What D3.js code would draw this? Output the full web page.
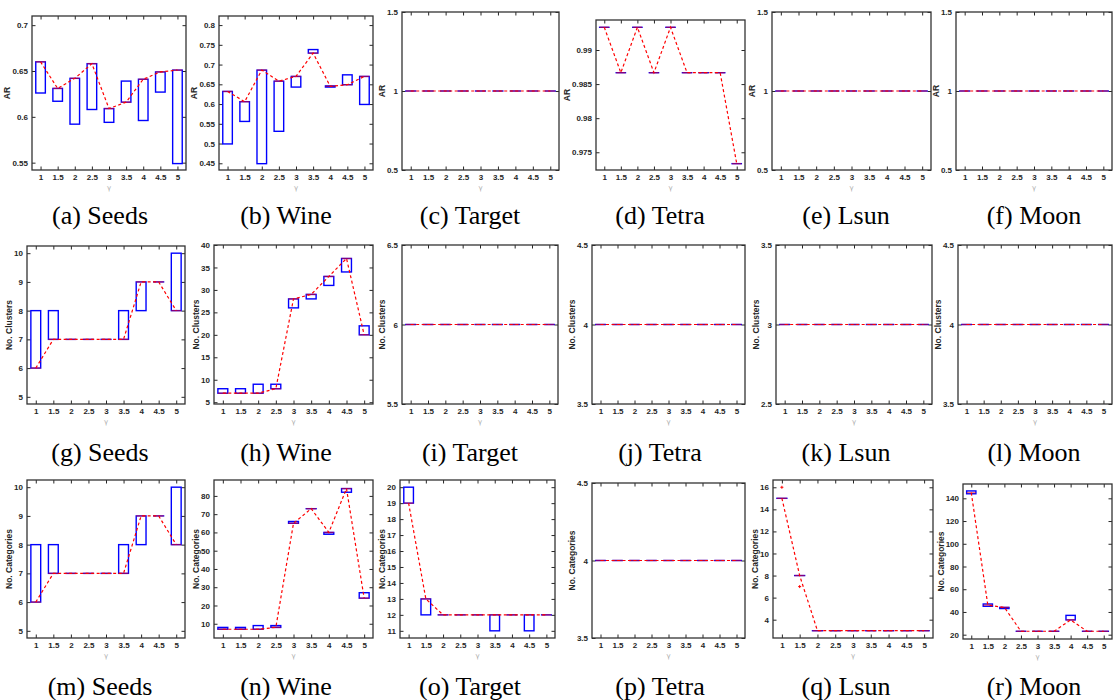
<!DOCTYPE html>
<html lang="en">
<head>
<meta charset="UTF-8">
<title>Box plots against gamma</title>
<script src="https://d3js.org/d3.v7.min.js"></script>
<style>
  body { margin: 0; background: #fff; }
</style>
</head>
<body>
<div id="chart"></div>
<script>
// gamma values shared by every panel
const gammas = [1, 1.5, 2, 2.5, 3, 3.5, 4, 4.5, 5];

// each box: [low, high, median]
const seedsAR = [[0.626,0.660,0.660],[0.617,0.631,0.631],[0.592,0.642,0.642],[0.608,0.658,0.658],[0.594,0.609,0.609],[0.616,0.639,0.616],[0.596,0.641,0.641],[0.627,0.649,0.649],[0.549,0.651,0.651]];
const wineAR = [[0.499,0.632,0.632],[0.556,0.606,0.606],[0.449,0.686,0.686],[0.531,0.658,0.658],[0.643,0.670,0.670],[0.729,0.738,0.729],[0.643,0.646,0.645],[0.649,0.674,0.649],[0.599,0.670,0.670]];
const targetAR = [[1,1,1],[1,1,1],[1,1,1],[1,1,1],[1,1,1],[1,1,1],[1,1,1],[1,1,1],[1,1,1]];
const tetraAR = [[0.99333,0.99333,0.99333],[0.98667,0.98667,0.98667],[0.99333,0.99333,0.99333],[0.98667,0.98667,0.98667],[0.99333,0.99333,0.99333],[0.98667,0.98667,0.98667],[0.98667,0.98667,0.98667],[0.98667,0.98667,0.98667],[0.97333,0.97333,0.97333]];
const lsunAR = [[1,1,1],[1,1,1],[1,1,1],[1,1,1],[1,1,1],[1,1,1],[1,1,1],[1,1,1],[1,1,1]];
const moonAR = [[1,1,1],[1,1,1],[1,1,1],[1,1,1],[1,1,1],[1,1,1],[1,1,1],[1,1,1],[1,1,1]];

const seedsClusters = [[6,8,6],[7,8,7],[7,7,7],[7,7,7],[7,7,7],[7,8,7],[8,9,9],[9,9,9],[8,10,8]];
const wineClusters = [[7,8,7],[7,8,7],[7,9,7],[8,9,8],[26,28,28],[28,29,29],[31,33,33],[34,37,37],[20,22,20]];
const targetClusters = [[6,6,6],[6,6,6],[6,6,6],[6,6,6],[6,6,6],[6,6,6],[6,6,6],[6,6,6],[6,6,6]];
const tetraClusters = [[4,4,4],[4,4,4],[4,4,4],[4,4,4],[4,4,4],[4,4,4],[4,4,4],[4,4,4],[4,4,4]];
const lsunClusters = [[3,3,3],[3,3,3],[3,3,3],[3,3,3],[3,3,3],[3,3,3],[3,3,3],[3,3,3],[3,3,3]];
const moonClusters = [[4,4,4],[4,4,4],[4,4,4],[4,4,4],[4,4,4],[4,4,4],[4,4,4],[4,4,4],[4,4,4]];

const seedsCategories = [[6,8,6],[7,8,7],[7,7,7],[7,7,7],[7,7,7],[7,8,7],[8,9,9],[9,9,9],[8,10,8]];
const wineCategories = [[7,8,7],[7,8,7],[7,9,7],[8,9,8],[65,66,65],[73,73,73],[59,60,60],[82,84,84],[24,27,24]];
const targetCategories = [[19,20,19],[12,13,13],[12,12,12],[12,12,12],[12,12,12],[11,12,12],[12,12,12],[11,12,12],[12,12,12]];
const tetraCategories = [[4,4,4],[4,4,4],[4,4,4],[4,4,4],[4,4,4],[4,4,4],[4,4,4],[4,4,4],[4,4,4]];
const lsunCategories = [[15,15,15],[8,8,8],[3,3,3],[3,3,3],[3,3,3],[3,3,3],[3,3,3],[3,3,3],[3,3,3]];
const lsunOutliers = [[1,16],[1.5,7]];
const moonCategories = [[144,146.5,145],[45,47,46],[43,44,44],[23,23,23],[23,23,23],[23,23,23],[33,37,33],[23,23,23],[23,23,23]];

// y tick labels per panel
const ticksSeedsAR = [0.55,0.6,0.65,0.7];
const ticksWineAR = [0.45,0.5,0.55,0.6,0.65,0.7,0.75,0.8];
const ticksUnitAR = [0.5,1,1.5];
const ticksTetraAR = [0.975,0.98,0.985,0.99];
const ticksSeedsCount = [5,6,7,8,9,10];
const ticksWineClusters = [5,10,15,20,25,30,35,40];
const ticksTargetClusters = [5.5,6,6.5];
const ticksFour = [3.5,4,4.5];
const ticksThree = [2.5,3,3.5];
const ticksWineCategories = [10,20,30,40,50,60,70,80];
const ticksTargetCategories = [11,12,13,14,15,16,17,18,19,20];
const ticksLsunCategories = [4,6,8,10,12,14,16];
const ticksMoonCategories = [20,40,60,80,100,120,140];

const panels = [
  {cap: "(a) Seeds",  label: "AR", data: seedsAR,  dom: [0.542,0.71],  ticks: ticksSeedsAR, frame: [32,16,186,170],  cx: 100, cy: 215},
  {cap: "(b) Wine",   label: "AR", data: wineAR,   dom: [0.433,0.823], ticks: ticksWineAR,  frame: [219,16,373,170], cx: 286, cy: 215},
  {cap: "(c) Target", label: "AR", data: targetAR, dom: [0.5,1.5],     ticks: ticksUnitAR,  frame: [402,12,559,170], cx: 470, cy: 215},
  {cap: "(d) Tetra",  label: "AR", data: tetraAR,  dom: [0.9724,0.9944], ticks: ticksTetraAR, frame: [596,20,745,170], cx: 660, cy: 215},
  {cap: "(e) Lsun",   label: "AR", data: lsunAR,   dom: [0.5,1.5],     ticks: ticksUnitAR,  frame: [772,12,931,170], cx: 846, cy: 215},
  {cap: "(f) Moon",   label: "AR", data: moonAR,   dom: [0.5,1.5],     ticks: ticksUnitAR,  frame: [956,12,1112,170], cx: 1034, cy: 215},

  {cap: "(g) Seeds",  label: "No. Clusters", data: seedsClusters,  dom: [4.75,10.25], ticks: ticksSeedsCount,    frame: [27,246,185,404],  cx: 100, cy: 452},
  {cap: "(h) Wine",   label: "No. Clusters", data: wineClusters,   dom: [4.6,40],     ticks: ticksWineClusters,  frame: [214,245,373,404], cx: 286, cy: 452},
  {cap: "(i) Target", label: "No. Clusters", data: targetClusters, dom: [5.5,6.5],    ticks: ticksTargetClusters, frame: [402,245,558,404], cx: 470, cy: 452},
  {cap: "(j) Tetra",  label: "No. Clusters", data: tetraClusters,  dom: [3.5,4.5],    ticks: ticksFour,          frame: [592,245,745,404], cx: 660, cy: 452},
  {cap: "(k) Lsun",   label: "No. Clusters", data: lsunClusters,   dom: [2.5,3.5],    ticks: ticksThree,         frame: [776,245,932,404], cx: 846, cy: 452},
  {cap: "(l) Moon",   label: "No. Clusters", data: moonClusters,   dom: [3.5,4.5],    ticks: ticksFour,          frame: [958,245,1112,404], cx: 1034, cy: 452},

  {cap: "(m) Seeds",  label: "No. Categories", data: seedsCategories,  dom: [4.75,10.25], ticks: ticksSeedsCount,      frame: [27,480,185,638],  cx: 100, cy: 686},
  {cap: "(n) Wine",   label: "No. Categories", data: wineCategories,   dom: [2.2,88.7],   ticks: ticksWineCategories,  frame: [214,480,373,638], cx: 286, cy: 686},
  {cap: "(o) Target", label: "No. Categories", data: targetCategories, dom: [10.55,20.45], ticks: ticksTargetCategories, frame: [400,480,555,638], cx: 470, cy: 686},
  {cap: "(p) Tetra",  label: "No. Categories", data: tetraCategories,  dom: [3.5,4.5],    ticks: ticksFour,            frame: [592,483,745,638], cx: 660, cy: 686},
  {cap: "(q) Lsun",   label: "No. Categories", data: lsunCategories,   dom: [2.34,16.66], ticks: ticksLsunCategories,  frame: [773,480,933,638], cx: 846, cy: 686, outliers: lsunOutliers},
  {cap: "(r) Moon",   label: "No. Categories", data: moonCategories,   dom: [16.2,152.6], ticks: ticksMoonCategories,  frame: [963,484,1112,639], cx: 1034, cy: 686}
];

const W = 1113, H = 700;
const svg = d3.select("#chart").append("svg")
  .attr("width", W).attr("height", H)
  .style("font-family", "'Liberation Sans', Arial, sans-serif");

const boxW = 0.28;
const fmt = v => String(+v.toFixed(4));

panels.forEach(p => {
  const [x0, y0, x1, y1] = p.frame;
  const x = d3.scaleLinear().domain([0.75, 5.25]).range([x0, x1]);
  const y = d3.scaleLinear().domain(p.dom).range([y1, y0]);
  const g = svg.append("g");

  // axes, ticks pointing inward on all four sides
  const styleAxis = sel => {
    sel.select(".domain").remove();
    sel.selectAll(".tick line").attr("stroke", "#262626").attr("stroke-width", 1);
    sel.selectAll(".tick text")
      .attr("fill", "#262626").style("font-size", "8px").style("font-weight", "bold");
  };
  g.append("g").attr("transform", `translate(0,${y1})`)
    .call(d3.axisBottom(x).tickValues(gammas).tickFormat(fmt).tickSize(-3.5).tickPadding(4))
    .call(styleAxis);
  g.append("g").attr("transform", `translate(0,${y0})`)
    .call(d3.axisTop(x).tickValues(gammas).tickFormat("").tickSize(-3.5))
    .call(styleAxis);
  const yAxis = g.append("g").attr("transform", `translate(${x0},0)`)
    .call(d3.axisLeft(y).tickValues(p.ticks).tickFormat(fmt).tickSize(-3.5).tickPadding(4))
    .call(styleAxis);
  g.append("g").attr("transform", `translate(${x1},0)`)
    .call(d3.axisRight(y).tickValues(p.ticks).tickFormat("").tickSize(-3.5))
    .call(styleAxis);

  g.append("rect")
    .attr("x", x0).attr("y", y0).attr("width", x1 - x0).attr("height", y1 - y0)
    .attr("fill", "none").attr("stroke", "#333").attr("stroke-width", 1.3);

  // boxes
  const boxes = g.append("g");
  p.data.forEach((d, i) => {
    const gx = gammas[i];
    boxes.append("rect")
      .attr("x", x(gx - boxW / 2)).attr("y", y(d[1]))
      .attr("width", x(gx + boxW / 2) - x(gx - boxW / 2))
      .attr("height", Math.max(0.01, y(d[0]) - y(d[1])))
      .attr("fill", "none").attr("stroke", "#0000ff").attr("stroke-width", 1.4);
  });

  // dashed line through medians
  const line = d3.line().x((d, i) => x(gammas[i])).y(d => y(d[2]));
  g.append("path").datum(p.data)
    .attr("d", line).attr("fill", "none")
    .attr("stroke", "#ff0000").attr("stroke-width", 1.2)
    .attr("stroke-dasharray", "3,2.5");

  // median markers
  p.data.forEach((d, i) => {
    const gx = gammas[i];
    g.append("line")
      .attr("x1", x(gx - boxW / 2)).attr("x2", x(gx + boxW / 2))
      .attr("y1", y(d[2])).attr("y2", y(d[2]))
      .attr("stroke", "#ff0000").attr("stroke-opacity", 0.5).attr("stroke-width", 1.4);
  });

  // outliers
  (p.outliers || []).forEach(o => {
    const ox = x(o[0]), oy = y(o[1]);
    g.append("path")
      .attr("d", `M${ox - 1.5},${oy}H${ox + 1.5}M${ox},${oy - 1.5}V${oy + 1.5}`)
      .attr("stroke", "#ff0000").attr("stroke-width", 1);
  });

  // y label, placed beside the widest tick label
  let tw = 0;
  yAxis.selectAll(".tick text").each(function () {
    tw = Math.max(tw, this.getComputedTextLength());
  });
  g.append("text")
    .attr("transform", `translate(${x0 - tw - 6},${(y0 + y1) / 2}) rotate(-90)`)
    .attr("text-anchor", "middle")
    .attr("fill", "#262626")
    .style("font-size", "8.5px").style("font-weight", "bold")
    .text(p.label);

  // gamma label
  g.append("text")
    .attr("x", (x0 + x1) / 2).attr("y", y1 + 20)
    .attr("text-anchor", "middle")
    .attr("fill", "#aaa")
    .style("font-family", "'DejaVu Sans', sans-serif")
    .style("font-size", "7px")
    .text("γ");

  // caption
  svg.append("text")
    .attr("x", p.cx).attr("y", p.cy)
    .attr("text-anchor", "middle").attr("dominant-baseline", "central")
    .style("font-family", "'Liberation Serif', 'Times New Roman', serif")
    .style("font-size", "26px")
    .attr("fill", "#000")
    .text(p.cap);
});
</script>
</body>
</html>
